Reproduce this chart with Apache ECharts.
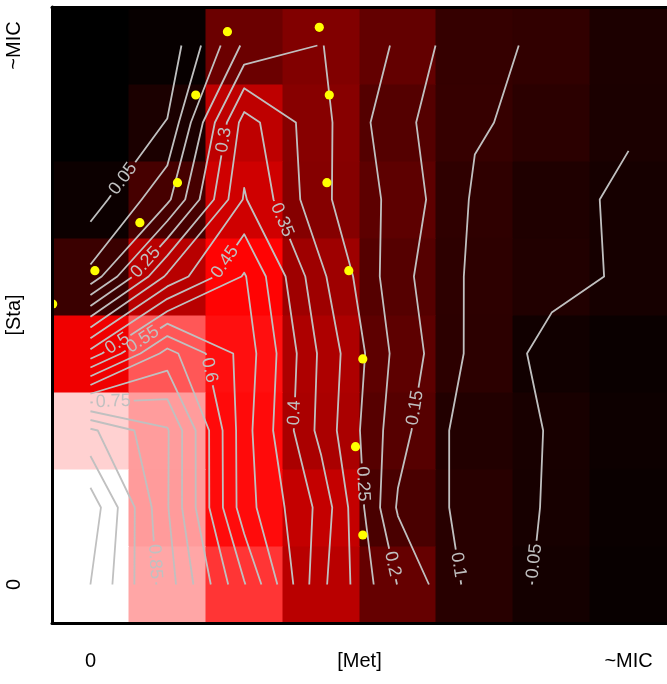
<!DOCTYPE html>
<html><head><meta charset="utf-8">
<script src="https://cdn.jsdelivr.net/npm/echarts@6/dist/echarts.min.js"></script>
<style>html,body{margin:0;padding:0;background:#fff}#c{width:667px;height:684px}</style>
</head><body><div id="c"></div>
<script>
// Relative growth on the checkerboard: one array per [Sta] step (bottom row first), columns = [Met] steps
const growthSta0 = [1.000, 0.825, 0.604, 0.363, 0.198, 0.079, 0.040, 0.015];
const growthSta1 = [1.031, 0.804, 0.522, 0.385, 0.144, 0.078, 0.045, 0.020];
const growthSta2 = [0.910, 0.805, 0.520, 0.334, 0.168, 0.066, 0.048, 0.025];
const growthSta3 = [0.470, 0.670, 0.530, 0.340, 0.183, 0.086, 0.033, 0.020];
const growthSta4 = [0.114, 0.360, 0.505, 0.310, 0.166, 0.089, 0.065, 0.043];
const growthSta5 = [0.024, 0.138, 0.405, 0.261, 0.183, 0.093, 0.060, 0.044];
const growthSta6 = [0.000, 0.052, 0.372, 0.265, 0.164, 0.105, 0.085, 0.0535];
const growthSta7 = [0.000, 0.014, 0.210, 0.252, 0.194, 0.104, 0.097, 0.055];

// Contour levels drawn
const contourLevels = [0.05,0.1,0.15,0.2,0.25,0.3,0.35,0.4,0.45,0.5,0.55,0.6,0.65,0.7,0.75,0.8,0.85,0.9,0.95,1.0];

// Yellow points (in checkerboard step units)
const dotMet = [3.477, 3.607, 3.576, 3.861, 4.043, 3.948, 4.043, 0.009, 0.558, 1.143, 1.632, 1.870, 2.282];
const dotSta = [7.736, 6.857, 5.719, 4.576, 3.429, 2.290, 1.143, 4.143, 4.576, 5.199, 5.719, 6.857, 7.679];

// Tick labels
const xTickLabels = ['0', '[Met]', '~MIC'];
const yTickLabels = ['0', '[Sta]', '~MIC'];
const tickPositions = [0.5, 4, 7.5];

// where the contour labels sit (level, near x, near y) - layout hints
const labelSpots = [
  [0.05, 0.948, 5.753], [0.25, 1.186, 4.714], [0.3, 2.234, 6.273], [0.35, 2.970, 5.225], [0.45, 2.212, 4.714],
  [0.5, 0.848, 3.632], [0.55, 1.186, 3.675], [0.6, 2.017, 3.277], [0.75, 0.797, 2.874], [0.85, 1.351, 0.796],
  [0.4, 3.156, 2.731], [0.25, 4.009, 1.805], [0.2, 4.424, 0.766], [0.15, 4.684, 2.801], [0.1, 5.277, 0.753], [0.05, 6.216, 0.809]
];

const growth = [growthSta0, growthSta1, growthSta2, growthSta3, growthSta4, growthSta5, growthSta6, growthSta7];

const LINE_COLOR = '#c0c0c0';
const LABEL_FONT = '18px "Liberation Sans", Arial, sans-serif';
const measureCtx = document.createElement('canvas').getContext('2d');
measureCtx.font = LABEL_FONT;

function buildPieces(vals, L) {
  const rows = vals.length, cols = vals[0].length;
  const pts = {}, adj = {};
  const key = (t, i, j) => t + i + '_' + j;
  function cross(k, va, vb, xa, ya, xb, yb) {
    if (!(k in pts)) {
      const t = (L - va) / (vb - va);
      pts[k] = [xa + (xb - xa) * t + 0.5, ya + (yb - ya) * t + 0.5];
    }
    return k;
  }
  function link(a, b) { (adj[a] = adj[a] || []).push(b); (adj[b] = adj[b] || []).push(a); }
  for (let j = 0; j < rows - 1; j++) for (let i = 0; i < cols - 1; i++) {
    const a = vals[j][i], b = vals[j][i + 1], c = vals[j + 1][i + 1], d = vals[j + 1][i];
    const A = a >= L, B = b >= L, C = c >= L, D = d >= L;
    const e = {};
    if (A !== B) e.bottom = cross(key('h', i, j), a, b, i, j, i + 1, j);
    if (B !== C) e.right = cross(key('v', i + 1, j), b, c, i + 1, j, i + 1, j + 1);
    if (D !== C) e.top = cross(key('h', i, j + 1), d, c, i, j + 1, i + 1, j + 1);
    if (A !== D) e.left = cross(key('v', i, j), a, d, i, j, i, j + 1);
    const ks = Object.keys(e);
    if (ks.length === 2) link(e[ks[0]], e[ks[1]]);
    else if (ks.length === 4) {
      const centre = (a + b + c + d) / 4 >= L;
      if (A) {
        if (centre) { link(e.bottom, e.right); link(e.top, e.left); }
        else { link(e.left, e.bottom); link(e.right, e.top); }
      } else {
        if (centre) { link(e.left, e.bottom); link(e.right, e.top); }
        else { link(e.bottom, e.right); link(e.top, e.left); }
      }
    }
  }
  const used = new Set();
  const ek = (p, q) => p < q ? p + '|' + q : q + '|' + p;
  function walk(start) {
    const path = [start]; let cur = start;
    while (true) {
      const nxt = (adj[cur] || []).find(n => !used.has(ek(cur, n)));
      if (nxt === undefined) break;
      used.add(ek(cur, nxt)); path.push(nxt); cur = nxt;
    }
    return path;
  }
  const out = [];
  Object.keys(adj).filter(k => adj[k].length === 1).forEach(k => { const p = walk(k); if (p.length > 1) out.push(p); });
  Object.keys(adj).forEach(k => {
    if (adj[k].some(n => !used.has(ek(k, n)))) { const p = walk(k); if (p.length > 1) out.push(p); }
  });
  return out.map(p => p.map(k => pts[k]));
}

const pieces = [];
contourLevels.forEach(L => {
  buildPieces(growth, L).forEach(pts => pieces.push({ level: L, pts: pts, labels: [] }));
});
function distToPiece(pc, x, y) {
  let best = Infinity;
  for (let i = 1; i < pc.pts.length; i++) {
    const [x1, y1] = pc.pts[i - 1], [x2, y2] = pc.pts[i];
    const dx = x2 - x1, dy = y2 - y1, l2 = dx * dx + dy * dy || 1e-12;
    let t = ((x - x1) * dx + (y - y1) * dy) / l2; t = Math.max(0, Math.min(1, t));
    const px = x1 + t * dx - x, py = y1 + t * dy - y;
    best = Math.min(best, px * px + py * py);
  }
  return best;
}
labelSpots.forEach(([L, x, y]) => {
  let best = null, bd = Infinity;
  pieces.forEach(pc => {
    if (Math.abs(pc.level - L) > 1e-9) return;
    const d = distToPiece(pc, x, y);
    if (d < bd) { bd = d; best = pc; }
  });
  if (best) best.labels.push([x, y]);
});

const heatData = [];
growth.forEach((row, j) => row.forEach((v, i) => heatData.push([i, j, v])));

function labelText(L) { return String(parseFloat(L.toFixed(2))); }

function renderContour(params, api) {
  const pc = pieces[api.value(2)];
  const P = pc.pts.map(p => api.coord(p));
  const cum = [0];
  for (let i = 1; i < P.length; i++) cum.push(cum[i - 1] + Math.hypot(P[i][0] - P[i - 1][0], P[i][1] - P[i - 1][1]));
  const total = cum[cum.length - 1];
  const pointAt = s => {
    s = Math.max(0, Math.min(total, s));
    for (let i = 1; i < P.length; i++) {
      if (s <= cum[i] || i === P.length - 1) {
        const seg = cum[i] - cum[i - 1] || 1e-9;
        const t = Math.max(0, Math.min(1, (s - cum[i - 1]) / seg));
        return [P[i - 1][0] + (P[i][0] - P[i - 1][0]) * t, P[i - 1][1] + (P[i][1] - P[i - 1][1]) * t];
      }
    }
    return P[P.length - 1];
  };
  const children = [];
  const gaps = [];
  pc.labels.forEach(([lx, ly]) => {
    const A = api.coord([lx, ly]);
    let bd = Infinity, s0 = 0;
    for (let i = 1; i < P.length; i++) {
      const [x1, y1] = P[i - 1], [x2, y2] = P[i];
      const dx = x2 - x1, dy = y2 - y1, l2 = dx * dx + dy * dy || 1e-12;
      let t = ((A[0] - x1) * dx + (A[1] - y1) * dy) / l2; t = Math.max(0, Math.min(1, t));
      const px = x1 + t * dx - A[0], py = y1 + t * dy - A[1];
      const d = px * px + py * py;
      if (d < bd) { bd = d; s0 = cum[i - 1] + t * Math.sqrt(l2); }
    }
    const text = labelText(pc.level);
    const w = measureCtx.measureText(text).width;
    s0 = Math.max(w / 2, Math.min(total - w / 2, s0));
    const pa = pointAt(s0 - w / 2), pb = pointAt(s0 + w / 2);
    const pcn = [(pa[0] + pb[0]) / 2, (pa[1] + pb[1]) / 2];
    let ang = Math.atan2(pb[1] - pa[1], pb[0] - pa[0]);
    if (ang > Math.PI / 2) ang -= Math.PI; else if (ang <= -Math.PI / 2) ang += Math.PI;
    gaps.push([s0 - w / 2 - 3, s0 + w / 2 + 3]);
    children.push({
      type: 'text', x: pcn[0], y: pcn[1], rotation: -ang, z2: 5,
      style: { text: text, fill: LINE_COLOR, font: LABEL_FONT, align: 'center', verticalAlign: 'middle' }
    });
  });
  let ranges = [[0, total]];
  gaps.forEach(([g1, g2]) => {
    const nr = [];
    ranges.forEach(([r1, r2]) => {
      if (g2 <= r1 || g1 >= r2) { nr.push([r1, r2]); return; }
      if (g1 > r1) nr.push([r1, g1]);
      if (g2 < r2) nr.push([g2, r2]);
    });
    ranges = nr;
  });
  ranges.forEach(([s1, s2]) => {
    if (s2 - s1 < 0.5) return;
    const pts = [pointAt(s1)];
    for (let i = 1; i < P.length - 1; i++) if (cum[i] > s1 && cum[i] < s2) pts.push(P[i]);
    pts.push(pointAt(s2));
    children.push({ type: 'polyline', shape: { points: pts }, style: { stroke: LINE_COLOR, lineWidth: 1.8, fill: null, lineJoin: 'round' } });
  });
  return { type: 'group', children: children };
}

const findTick = (labels, v) => {
  const k = tickPositions.findIndex(p => Math.abs(p - v) < 1e-6);
  return k >= 0 ? labels[k] : '';
};

const chart = echarts.init(document.getElementById('c'), null, { renderer: 'canvas', width: 667, height: 684 });
chart.setOption({
  animation: false,
  backgroundColor: '#ffffff',
  grid: { left: 52, top: 7, width: 616, height: 616 },
  xAxis: [
    {
      type: 'value', min: 0, max: 8, position: 'bottom', z: 10,
      axisLine: { show: true, onZero: false, lineStyle: { color: '#000', width: 3 } },
      axisTick: { show: false }, splitLine: { show: false },
      axisLabel: {
        show: true, customValues: tickPositions, formatter: v => findTick(xTickLabels, v),
        color: '#000', fontSize: 20, fontFamily: 'Liberation Sans', margin: 28
      }
    },
    {
      type: 'value', min: 0, max: 8, position: 'top', z: 10,
      axisLine: { show: true, onZero: false, lineStyle: { color: '#000', width: 3 } },
      axisTick: { show: false }, splitLine: { show: false }, axisLabel: { show: false }
    }
  ],
  yAxis: {
    type: 'value', min: 0, max: 8, position: 'left', z: 10,
    axisLine: { show: true, onZero: false, lineStyle: { color: '#000', width: 3 } },
    axisTick: { show: false }, splitLine: { show: false },
    axisLabel: {
      show: true, customValues: tickPositions, formatter: v => findTick(yTickLabels, v), rotate: 90,
      color: '#000', fontSize: 20, fontFamily: 'Liberation Sans', margin: 28
    }
  },
  visualMap: {
    type: 'continuous', show: false, min: 0, max: 1, dimension: 2, seriesIndex: 0,
    inRange: { color: ['#000000', '#ff0000', '#ffffff'] }
  },
  series: [
    {
      type: 'custom', name: 'growth', silent: true, z: 1,
      encode: { x: 0, y: 1 },
      data: heatData,
      renderItem: (params, api) => {
        const i = api.value(0), j = api.value(1);
        const p0 = api.coord([i, j + 1]), p1 = api.coord([i + 1, j]);
        const col = api.visual('color');
        return {
          type: 'rect',
          shape: { x: Math.round(p0[0]), y: Math.round(p0[1]), width: Math.round(p1[0]) - Math.round(p0[0]), height: Math.round(p1[1]) - Math.round(p0[1]) },
          style: { fill: col, stroke: col, lineWidth: 1 }
        };
      }
    },
    {
      type: 'custom', name: 'contours', silent: true, z: 3,
      encode: { x: 0, y: 1 },
      data: pieces.map((pc, k) => [pc.pts[0][0], pc.pts[0][1], k]),
      renderItem: renderContour
    },
    {
      type: 'custom', name: 'points', silent: true, z: 4, clip: true,
      encode: { x: 0, y: 1 },
      data: dotMet.map((x, k) => [x, dotSta[k]]),
      renderItem: (params, api) => {
        const p = api.coord([api.value(0), api.value(1)]);
        return { type: 'circle', shape: { cx: p[0], cy: p[1], r: 4.6 }, style: { fill: '#ffff00' } };
      }
    }
  ]
});
</script>
</body></html>
